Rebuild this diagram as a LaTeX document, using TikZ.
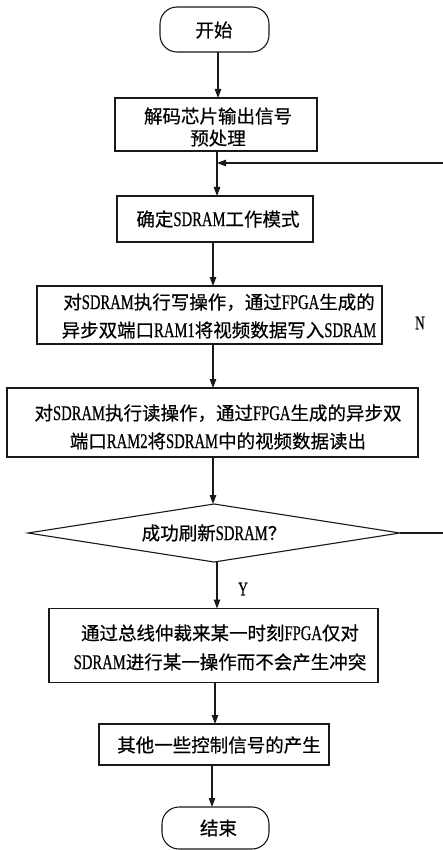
\documentclass[tikz,border=0pt]{standalone}
\usepackage{fontspec}
\setmainfont[FakeBold=0.5]{Noto Sans CJK SC}
\newfontfamily\latnf[FakeStretch=0.7,Scale=1.13,FakeBold=0.5]{Liberation Serif}
\newcommand{\ltn}[1]{{\latnf #1}}
\usetikzlibrary{shapes.geometric,arrows.meta}
\begin{document}
\begin{tikzpicture}[x=1pt,y=-1pt,
  boxnode/.style={draw=black!90, line width=1.1pt, rectangle, inner sep=0pt, outer sep=0pt},
  termnode/.style={boxnode, rounded corners=17pt},
  txt/.style={inner sep=0pt, align=center, font=\fontsize{18.5}{28}\selectfont},
  arr/.style={draw=black!90, line width=1.1pt, -{Triangle[length=9pt,width=6.5pt]}},
  lbl/.style={inner sep=0pt, font=\fontsize{17}{20}\selectfont\latnf}]
\useasboundingbox (0,0) rectangle (442,850);

% boxes
\node[termnode, minimum width=109pt, minimum height=45pt] (start) at (214.5,29.5) {};
\node[txt] (tstart) at (214,30) {开始};

\node[boxnode, minimum width=202pt, minimum height=53pt] (b1) at (216,124.5) {};
\node[txt, font=\fontsize{18.5}{22}\selectfont] (t1) at (218,127) {解码芯片输出信号\\预处理};

\node[boxnode, minimum width=196pt, minimum height=46pt] (b2) at (215,219) {};
\node[txt] (t2) at (218,219) {确定\ltn{SDRAM}工作模式};

\node[boxnode, minimum width=345pt, minimum height=58pt] (b3) at (209.5,315) {};
\node[txt] (t3) at (219,316) {对\ltn{SDRAM}执行写操作，通过\ltn{FPGA}生成的\\异步双端口\ltn{RAM1}将视频数据写入\ltn{SDRAM}};

\node[boxnode, minimum width=411pt, minimum height=69pt] (b4) at (212.5,422.5) {};
\node[txt] (t4) at (218,427) {对\ltn{SDRAM}执行读操作，通过\ltn{FPGA}生成的异步双\\端口\ltn{RAM2}将\ltn{SDRAM}中的视频数据读出};

\node[diamond, aspect=6.4, draw=black!90, line width=1.1pt, inner sep=0pt, outer sep=0pt,
      minimum width=372pt, minimum height=58pt, font=\fontsize{18.5}{22}\selectfont] (d) at (214,533) {成功刷新\ltn{SDRAM}？};

\node[boxnode, minimum width=329pt, minimum height=74pt] (b5) at (213.5,645.5) {};
\node[txt, font=\fontsize{18.5}{29}\selectfont] (t5) at (220,647.5) {通过总线仲裁来某一时刻\ltn{FPGA}仅对\\\ltn{SDRAM}进行某一操作而不会产生冲突};

\node[boxnode, minimum width=230pt, minimum height=41pt] (b6) at (214,744.5) {};
\node[txt] (t6) at (219,745) {其他一些控制信号的产生};

\node[termnode, minimum width=107pt, minimum height=42pt] (end) at (215.5,828) {};
\node[txt] (tend) at (218.5,828) {结束};

% labels
\node[lbl] (ln) at (420,323) {N};
\node[lbl] (ly) at (243,589) {Y};

% arrows
\draw[arr] ([xshift=3.5pt]start.south) -- ([xshift=3.5pt]start.south |- b1.north);
\draw[arr] ([xshift=1pt]b1.south) -- ([xshift=1pt]b1.south |- b2.north);
\draw[arr] ([xshift=-2pt]b2.south) -- ([xshift=-2pt]b2.south |- b3.north);
\draw[arr] ([xshift=3.5pt]b3.south) -- ([xshift=3.5pt]b3.south |- b4.north);
\draw[arr] ([xshift=0.5pt]b4.south) -- ([xshift=0.5pt]b4.south |- d.north);
\draw[arr] ([xshift=3pt]d.south) -- ([xshift=3pt]d.south |- b5.north);
\draw[arr] ([xshift=1.5pt]b5.south) -- ([xshift=1.5pt]b5.south |- b6.north);
\draw[arr] ([xshift=-2pt]b6.south) -- ([xshift=-2pt]b6.south |- end.north);

% feedback loop
\coordinate (j) at (217,163);
\draw[arr] (d.east) -- (447,533) -- (447,163) -- (j);
\end{tikzpicture}
\end{document}
